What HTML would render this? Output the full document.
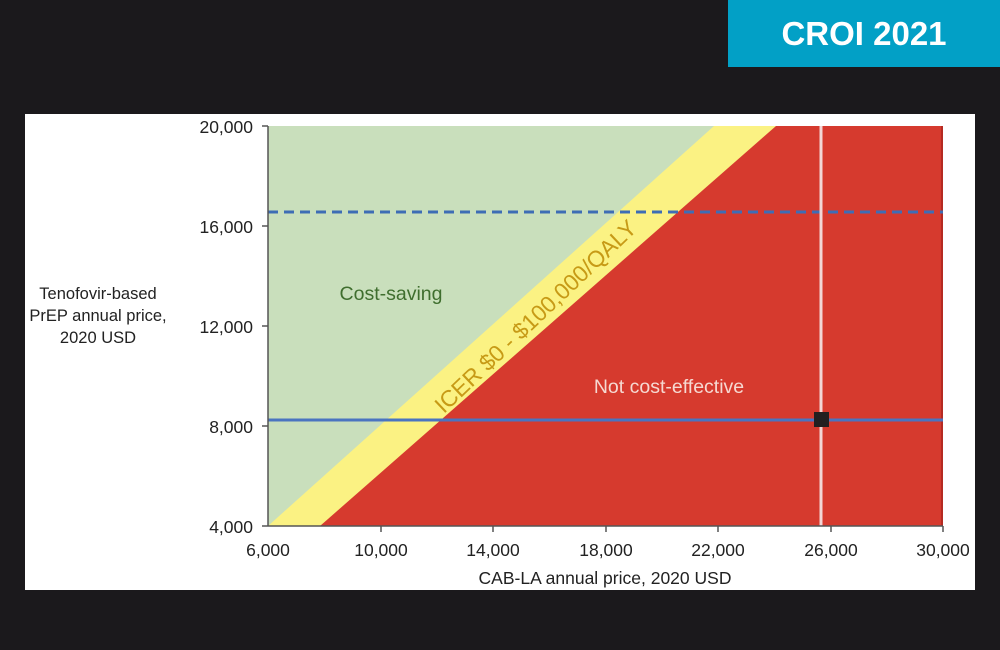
<!DOCTYPE html>
<html><head><style>
body{margin:0;width:1000px;height:650px;background:#1b191c;position:relative;overflow:hidden;font-family:"Liberation Sans",sans-serif}
</style></head><body>
<div style="position:absolute;left:728px;top:0;width:272px;height:67px;background:#02a0c6;color:#fff;font-weight:bold;font-size:33px;line-height:67px;text-align:center">CROI 2021</div>
<svg style="position:absolute;left:0;top:0" width="1000" height="650" font-family="Liberation Sans, sans-serif">
<rect x="25" y="114" width="950" height="476" fill="#fff"/>
<rect x="268" y="126" width="675" height="400" fill="#c9dfbc"/>
<polygon points="268,526 714,126 943,126 943,526" fill="#fbf283"/>
<polygon points="320,526 776,126 943,126 943,526" fill="#d63a2e"/>
<rect x="941" y="126" width="2" height="400" fill="#b52a22"/>
<line x1="268" y1="212" x2="943" y2="212" stroke="#3e6db5" stroke-width="3" stroke-dasharray="10,6"/>
<line x1="268" y1="420" x2="943" y2="420" stroke="#4a74c0" stroke-width="3"/>
<line x1="821" y1="126" x2="821" y2="526" stroke="#f3d6d6" stroke-width="3"/>
<rect x="814" y="412" width="15" height="15" fill="#231f20"/>
<line x1="268" y1="126" x2="268" y2="526" stroke="#555" stroke-width="1.5"/>
<line x1="268" y1="526" x2="943" y2="526" stroke="#555" stroke-width="1.5"/>
<g stroke="#555" stroke-width="1.5">
<line x1="262" y1="126" x2="268" y2="126"/><line x1="262" y1="226" x2="268" y2="226"/><line x1="262" y1="326" x2="268" y2="326"/><line x1="262" y1="426" x2="268" y2="426"/><line x1="262" y1="526" x2="268" y2="526"/>
<line x1="381" y1="526" x2="381" y2="532"/><line x1="493" y1="526" x2="493" y2="532"/><line x1="606" y1="526" x2="606" y2="532"/><line x1="718" y1="526" x2="718" y2="532"/><line x1="831" y1="526" x2="831" y2="532"/><line x1="943" y1="526" x2="943" y2="532"/>
</g>
<g font-size="17.5" fill="#222" text-anchor="end">
<text x="253" y="133">20,000</text><text x="253" y="233">16,000</text><text x="253" y="333">12,000</text><text x="253" y="433">8,000</text><text x="253" y="533">4,000</text>
</g>
<g font-size="17.5" fill="#222" text-anchor="middle">
<text x="268" y="556">6,000</text><text x="381" y="556">10,000</text><text x="493" y="556">14,000</text><text x="606" y="556">18,000</text><text x="718" y="556">22,000</text><text x="831" y="556">26,000</text><text x="943" y="556">30,000</text>
<text x="605" y="584">CAB-LA annual price, 2020 USD</text>
</g>
<g font-size="16.5" fill="#222" text-anchor="middle">
<text x="98" y="299">Tenofovir-based</text><text x="98" y="321">PrEP annual price,</text><text x="98" y="343">2020 USD</text>
</g>
<text x="391" y="300" font-size="19.5" fill="#3f6e2e" text-anchor="middle">Cost-saving</text>
<text x="669" y="393" font-size="19.5" fill="#f6d9d2" text-anchor="middle">Not cost-effective</text>
<text x="-134" y="0" font-size="23" fill="#c79a16" textLength="268" lengthAdjust="spacingAndGlyphs" transform="translate(541,322) rotate(-43.5)">ICER $0 - $100,000/QALY</text>
</svg>
</body></html>
